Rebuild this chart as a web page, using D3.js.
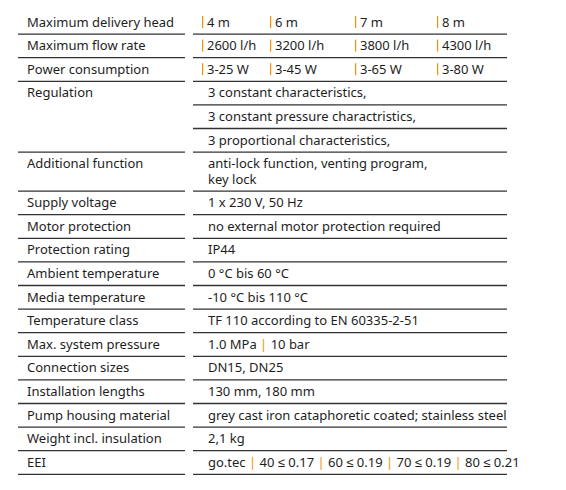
<!DOCTYPE html>
<html><head><meta charset="utf-8">
<script src="https://cdn.jsdelivr.net/npm/d3@7"></script>
<style>body{margin:0;background:#fff}text{font-family:"Noto Sans",sans-serif;font-size:13px;fill:#1e1e1e}</style>
</head><body><svg id="c" width="566" height="490"></svg>
<script>
const labels=["Maximum delivery head","Maximum flow rate","Power consumption","Regulation","","","Additional function","Supply voltage","Motor protection","Protection rating","Ambient temperature","Media temperature","Temperature class","Max. system pressure","Connection sizes","Installation lengths","Pump housing material","Weight incl. insulation","EEI"];
const headValues=["4 m","6 m","7 m","8 m"];
const flowValues=["2600 l/h","3200 l/h","3800 l/h","4300 l/h"];
const powerValues=["3-25 W","3-45 W","3-65 W","3-80 W"];
const textValues=[null,null,null,["3 constant characteristics,"],["3 constant pressure charactristics,"],["3 proportional characteristics,"],["anti-lock function, venting program,","key lock"],["1 x 230 V, 50 Hz"],["no external motor protection required"],["IP44"],["0 °C bis 60 °C"],["-10 °C bis 110 °C"],["TF 110 according to EN 60335-2-51"],null,["DN15, DN25"],["130 mm, 180 mm"],["grey cast iron cataphoretic coated; stainless steel"],["2,1 kg"],null];
const pressureParts=["1.0 MPa","10 bar"];
const eeiParts=["go.tec","40 ≤ 0.17","60 ≤ 0.19","70 ≤ 0.19","80 ≤ 0.21"];
const lineCounts=labels.map((l,i)=>i===6?2:1);
const colValues={0:headValues,1:flowValues,2:powerValues};

const svg=d3.select("#c");
const rowH=23.6, extra=15.4, topY=10.5;
let ys=[topY];lineCounts.forEach((n,i)=>ys.push(ys[i]+rowH+(n-1)*extra));
const orange="#f39200";
const xs=[202,270,355,437];
labels.forEach((lab,i)=>{
  const y0=ys[i], y1=ys[i+1], by=y0+16;
  if(lab) svg.append("text").attr("x",27).attr("y",by).text(lab);
  const regStart=(i===3||i===4);
  if(!regStart) svg.append("line").attr("x1",18).attr("x2",185).attr("y1",y1).attr("y2",y1).attr("stroke","#333").attr("stroke-width",1.3);
  svg.append("line").attr("x1",193).attr("x2",507).attr("y1",y1).attr("y2",y1).attr("stroke","#333").attr("stroke-width",1.3);
  if(colValues[i]){
    colValues[i].forEach((v,j)=>{
      svg.append("rect").attr("x",xs[j]).attr("y",by-10.5).attr("width",1.2).attr("height",12).attr("fill",orange);
      svg.append("text").attr("x",xs[j]+5).attr("y",by).text(v);
    });
  } else if(textValues[i]){
    textValues[i].forEach((t,k)=>svg.append("text").attr("x",208).attr("y",by+k*extra).text(t));
  } else {
    const parts=i===13?pressureParts:eeiParts;
    const tt=svg.append("text").attr("x",208).attr("y",by);
    parts.forEach((p,k)=>{
      if(k>0) tt.append("tspan").style("fill",orange).text(" | ");
      tt.append("tspan").text(p);
    });
  }
});
</script></body></html>
